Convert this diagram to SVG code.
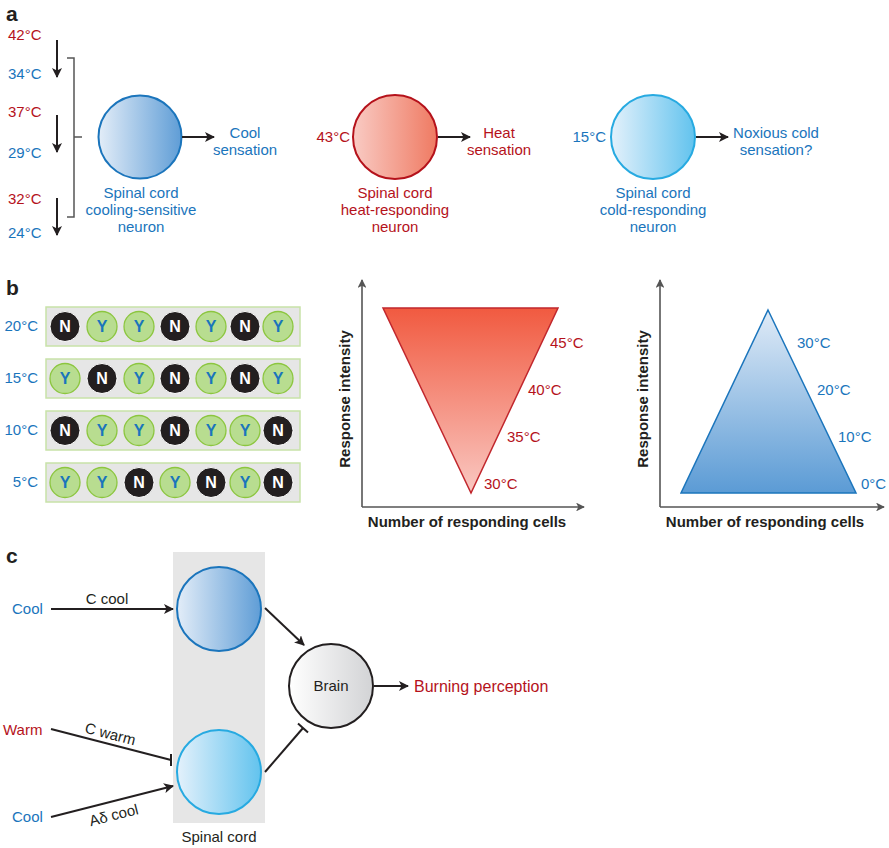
<svg xmlns="http://www.w3.org/2000/svg" width="889" height="848" viewBox="0 0 889 848">
<defs>
<style>
text{font-family:"Liberation Sans",Arial,sans-serif;font-size:15px}
.blue{fill:#1a75bc}
.red{fill:#b5121b}
.blk{fill:#231f20}
.panel{font-size:21px;font-weight:bold;fill:#231f20}
.ax{font-weight:bold;font-size:15px;fill:#231f20}
.t14{font-size:15px}
.mid{text-anchor:middle}
.end{text-anchor:end}
.ln{stroke:#231f20;stroke-width:2;fill:none}
.axl{stroke:#555;stroke-width:1.6;fill:none}
.row{fill:#e6e6e6;stroke:#c8e2a8;stroke-width:1.5}
.cn{fill:#231f20;stroke:#fff;stroke-width:1}
.cy{fill:#b8dd90;stroke:#8cc63f;stroke-width:1.3}
.ln2{font-weight:bold;font-size:16px;text-anchor:middle}
</style>
<linearGradient id="gBlue" x1="0" y1="0" x2="1" y2="0"><stop offset="0" stop-color="#e3edf8"/><stop offset="1" stop-color="#5f9dd6"/></linearGradient>
<linearGradient id="gRed" x1="0" y1="0" x2="1" y2="0"><stop offset="0" stop-color="#f9cbc4"/><stop offset="1" stop-color="#ef7a62"/></linearGradient>
<linearGradient id="gLBlue" x1="0" y1="0" x2="1" y2="0"><stop offset="0" stop-color="#e4f1fb"/><stop offset="1" stop-color="#62c3ee"/></linearGradient>
<linearGradient id="gGray" x1="0" y1="0" x2="1" y2="0"><stop offset="0" stop-color="#ffffff"/><stop offset="1" stop-color="#d2d3d5"/></linearGradient>
<linearGradient id="gTriR" x1="0" y1="0" x2="0" y2="1"><stop offset="0" stop-color="#f15a40"/><stop offset="1" stop-color="#f9c8c2"/></linearGradient>
<linearGradient id="gTriB" x1="0" y1="0" x2="0" y2="1"><stop offset="0" stop-color="#e0ebf7"/><stop offset="1" stop-color="#5b9bd5"/></linearGradient>
<marker id="ah" viewBox="0 0 10 10" refX="9" refY="5" markerWidth="5" markerHeight="5" orient="auto" markerUnits="strokeWidth"><path d="M0,0 L10,5 L0,10 L2.5,5 Z" fill="#231f20"/></marker>
<marker id="ahg" viewBox="0 0 10 10" refX="9" refY="5" markerWidth="5.5" markerHeight="5.5" orient="auto" markerUnits="strokeWidth"><path d="M0,0 L10,5 L0,10 L2.5,5 Z" fill="#555"/></marker>
</defs>

<!-- Panel labels -->
<text class="panel" x="6" y="21">a</text>
<text class="panel" x="6" y="295">b</text>
<text class="panel" x="6" y="563">c</text>

<!-- ============ Panel a ============ -->
<g id="a-temps">
<text class="red t14" x="8" y="40">42°C</text>
<text class="blue t14" x="8" y="79">34°C</text>
<text class="red t14" x="8" y="117">37°C</text>
<text class="blue t14" x="8" y="158">29°C</text>
<text class="red t14" x="8" y="204">32°C</text>
<text class="blue t14" x="8" y="238">24°C</text>
</g>
<g id="a-bracket">
<path d="M67,58 H74 V217 H67 M74,137 H82" stroke="#555" stroke-width="1.5" fill="none"/>
</g>
<g id="a-cool-neuron">
<circle cx="140" cy="137" r="41.5" fill="url(#gBlue)" stroke="#1b75bc" stroke-width="2"/>
<text class="blue mid" x="141" y="198">Spinal cord</text>
<text class="blue mid" x="141" y="215">cooling-sensitive</text>
<text class="blue mid" x="141" y="232">neuron</text>
</g>
<g id="a-cool-out">
<text class="blue mid" x="245" y="138">Cool</text>
<text class="blue mid" x="245" y="155">sensation</text>
</g>
<g id="a-heat-neuron">
<text class="red end" x="350" y="142">43°C</text>
<circle cx="395" cy="137" r="42" fill="url(#gRed)" stroke="#b5121b" stroke-width="2"/>
<text class="red mid" x="395" y="198">Spinal cord</text>
<text class="red mid" x="395" y="215">heat-responding</text>
<text class="red mid" x="395" y="232">neuron</text>
</g>
<g id="a-heat-out">
<text class="red mid" x="499" y="138">Heat</text>
<text class="red mid" x="499" y="155">sensation</text>
</g>
<g id="a-cold-neuron">
<text class="blue end" x="606" y="142">15°C</text>
<circle cx="653" cy="137" r="42" fill="url(#gLBlue)" stroke="#27aae1" stroke-width="2"/>
<text class="blue mid" x="653" y="198">Spinal cord</text>
<text class="blue mid" x="653" y="215">cold-responding</text>
<text class="blue mid" x="653" y="232">neuron</text>
</g>
<g id="a-cold-out">
<text class="blue mid" x="776" y="138">Noxious cold</text>
<text class="blue mid" x="776" y="155">sensation?</text>
</g>
<g id="a-connectors">
<line class="ln" x1="57" y1="40" x2="57" y2="77" marker-end="url(#ah)"/>
<line class="ln" x1="57" y1="115" x2="57" y2="152" marker-end="url(#ah)"/>
<line class="ln" x1="57" y1="198" x2="57" y2="235" marker-end="url(#ah)"/>
<line class="ln" x1="182" y1="137" x2="214" y2="137" marker-end="url(#ah)"/>
<line class="ln" x1="438" y1="137" x2="470" y2="137" marker-end="url(#ah)"/>
<line class="ln" x1="696" y1="137" x2="728" y2="137" marker-end="url(#ah)"/>
</g>

<!-- ============ Panel b ============ -->
<g id="b-rows">
<text class="blue t14 end" x="38" y="331">20°C</text>
<text class="blue t14 end" x="38" y="383">15°C</text>
<text class="blue t14 end" x="38" y="435">10°C</text>
<text class="blue t14 end" x="38" y="487">5°C</text>
<rect class="row" x="46" y="307" width="254" height="39"/>
<rect class="row" x="46" y="359" width="254" height="39"/>
<rect class="row" x="46" y="411" width="254" height="39"/>
<rect class="row" x="46" y="463" width="254" height="39"/>
</g>
<g id="b-cells">
<circle class="cn" cx="65" cy="326.5" r="15"/><circle class="cy" cx="102" cy="326.5" r="15"/><circle class="cy" cx="139" cy="326.5" r="15"/><circle class="cn" cx="175" cy="326.5" r="15"/><circle class="cy" cx="211" cy="326.5" r="15"/><circle class="cn" cx="245" cy="326.5" r="15"/><circle class="cy" cx="278" cy="326.5" r="15"/>
<circle class="cy" cx="65" cy="378.5" r="15"/><circle class="cn" cx="102" cy="378.5" r="15"/><circle class="cy" cx="139" cy="378.5" r="15"/><circle class="cn" cx="175" cy="378.5" r="15"/><circle class="cy" cx="211" cy="378.5" r="15"/><circle class="cn" cx="245" cy="378.5" r="15"/><circle class="cy" cx="278" cy="378.5" r="15"/>
<circle class="cn" cx="65" cy="430.5" r="15"/><circle class="cy" cx="102" cy="430.5" r="15"/><circle class="cy" cx="139" cy="430.5" r="15"/><circle class="cn" cx="175" cy="430.5" r="15"/><circle class="cy" cx="211" cy="430.5" r="15"/><circle class="cy" cx="245" cy="430.5" r="15"/><circle class="cn" cx="278" cy="430.5" r="15"/>
<circle class="cy" cx="65" cy="482.5" r="15"/><circle class="cy" cx="102" cy="482.5" r="15"/><circle class="cn" cx="139" cy="482.5" r="15"/><circle class="cy" cx="175" cy="482.5" r="15"/><circle class="cn" cx="211" cy="482.5" r="15"/><circle class="cy" cx="245" cy="482.5" r="15"/><circle class="cn" cx="278" cy="482.5" r="15"/>
</g>
<g id="b-letters">
<text class="ln2" fill="#fff" x="65" y="332">N</text><text class="ln2 blue" x="102" y="332">Y</text><text class="ln2 blue" x="139" y="332">Y</text><text class="ln2" fill="#fff" x="175" y="332">N</text><text class="ln2 blue" x="211" y="332">Y</text><text class="ln2" fill="#fff" x="245" y="332">N</text><text class="ln2 blue" x="278" y="332">Y</text>
<text class="ln2 blue" x="65" y="384">Y</text><text class="ln2" fill="#fff" x="102" y="384">N</text><text class="ln2 blue" x="139" y="384">Y</text><text class="ln2" fill="#fff" x="175" y="384">N</text><text class="ln2 blue" x="211" y="384">Y</text><text class="ln2" fill="#fff" x="245" y="384">N</text><text class="ln2 blue" x="278" y="384">Y</text>
<text class="ln2" fill="#fff" x="65" y="436">N</text><text class="ln2 blue" x="102" y="436">Y</text><text class="ln2 blue" x="139" y="436">Y</text><text class="ln2" fill="#fff" x="175" y="436">N</text><text class="ln2 blue" x="211" y="436">Y</text><text class="ln2 blue" x="245" y="436">Y</text><text class="ln2" fill="#fff" x="278" y="436">N</text>
<text class="ln2 blue" x="65" y="488">Y</text><text class="ln2 blue" x="102" y="488">Y</text><text class="ln2" fill="#fff" x="139" y="488">N</text><text class="ln2 blue" x="175" y="488">Y</text><text class="ln2" fill="#fff" x="211" y="488">N</text><text class="ln2 blue" x="245" y="488">Y</text><text class="ln2" fill="#fff" x="278" y="488">N</text>
</g>

<g id="b-heat-graph">
<path class="axl" d="M362,507 V280" marker-end="url(#ahg)"/>
<path class="axl" d="M362,507 H584" marker-end="url(#ahg)"/>
<polygon points="383,308 558,308 471,493" fill="url(#gTriR)" stroke="#c1272d" stroke-width="1.5"/>
<text class="red t14" x="550" y="348">45°C</text>
<text class="red t14" x="528" y="395">40°C</text>
<text class="red t14" x="507" y="442">35°C</text>
<text class="red t14" x="484" y="489">30°C</text>
<text class="ax mid" transform="translate(350,399) rotate(-90)">Response intensity</text>
<text class="ax mid" x="467" y="527">Number of responding cells</text>
</g>

<g id="b-cold-graph">
<path class="axl" d="M660,507 V280" marker-end="url(#ahg)"/>
<path class="axl" d="M660,507 H884" marker-end="url(#ahg)"/>
<polygon points="768,310 856,493 681,493" fill="url(#gTriB)" stroke="#1b75bc" stroke-width="1.5"/>
<text class="blue t14" x="797" y="348">30°C</text>
<text class="blue t14" x="817" y="395">20°C</text>
<text class="blue t14" x="838" y="442">10°C</text>
<text class="blue t14" x="861" y="489">0°C</text>
<text class="ax mid" transform="translate(648,399) rotate(-90)">Response intensity</text>
<text class="ax mid" x="765" y="527">Number of responding cells</text>
</g>

<!-- ============ Panel c ============ -->
<g id="c-spinal-cord">
<rect x="173" y="552" width="92" height="271" fill="#e6e6e6"/>
<text class="blk mid" x="219" y="842">Spinal cord</text>
</g>
<g id="c-cool-neuron">
<circle cx="219" cy="609" r="42" fill="url(#gBlue)" stroke="#1b75bc" stroke-width="2"/>
</g>
<g id="c-cold-neuron">
<circle cx="219" cy="772" r="42" fill="url(#gLBlue)" stroke="#27aae1" stroke-width="2"/>
</g>
<g id="c-brain">
<circle cx="331" cy="686" r="42" fill="url(#gGray)" stroke="#231f20" stroke-width="2"/>
<text class="blk mid" x="331" y="691">Brain</text>
</g>
<g id="c-inputs">
<text class="blue" x="12" y="614">Cool</text>
<text class="red" x="3" y="735">Warm</text>
<text class="blue" x="12" y="822">Cool</text>
<text class="red" x="414" y="692" style="font-size:16px">Burning perception</text>
</g>
<g id="c-connectors">
<line class="ln" x1="51" y1="609" x2="173" y2="609" marker-end="url(#ah)"/>
<text class="blk mid" x="107" y="604">C cool</text>
<line class="ln" x1="51" y1="729" x2="171" y2="760"/>
<line class="ln" x1="171" y1="754" x2="171" y2="766"/>
<text class="blk mid" transform="translate(109,739) rotate(14.5)">C warm</text>
<line class="ln" x1="51" y1="817" x2="173" y2="786" marker-end="url(#ah)"/>
<text class="blk mid" transform="translate(115,820) rotate(-14.3)">Aδ cool</text>
<line class="ln" x1="265" y1="608" x2="304" y2="645" marker-end="url(#ah)"/>
<line class="ln" x1="265" y1="772" x2="303" y2="728"/>
<line class="ln" x1="298" y1="723.5" x2="308" y2="732.5"/>
<line class="ln" x1="374" y1="686" x2="408" y2="686" marker-end="url(#ah)"/>
</g>
</svg>
